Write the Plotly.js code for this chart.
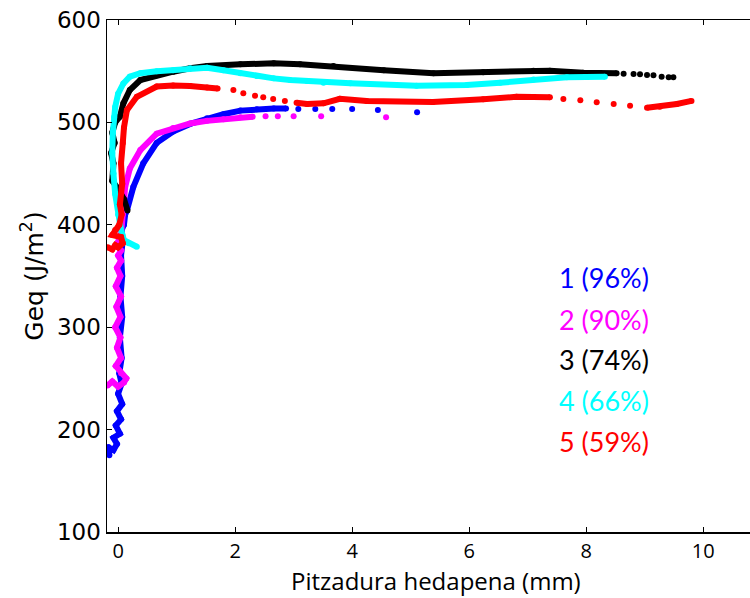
<!DOCTYPE html>
<html>
<head>
<meta charset="utf-8">
<script src="https://cdn.plot.ly/plotly-3.0.1.min.js"></script>
<style>html,body{margin:0;padding:0;background:#fff;}#chart{width:750px;height:598px;}</style>
</head>
<body>
<div id="chart"></div>
<script>
// Series labels and colours
const seriesLabels = ["1 (96%)", "2 (90%)", "3 (74%)", "4 (66%)", "5 (59%)"];
const seriesColors = ["#0000ff", "#ff00ff", "#000000", "#00ffff", "#ff0000"];

// Series 1 (blue) — dense part, then sparse tail
const s1DenseX = [-0.15,-0.17,-0.08,-0.02,-0.08,0.03,-0.04,0.05,-0.02,0.07,0.0,0.06,0.02,0.06,0.03,0.07,0.04,0.07,0.05,0.08,0.06,0.1,0.12,0.15,0.26,0.43,0.66,0.94,1.23,1.52,1.8,2.09,2.37,2.66,2.87];
const s1DenseY = [175,183,180,186,192,196,204,210,218,225,235,245,255,270,290,310,330,350,370,385,395,400,410,414,437,460,480,491,498.5,504,508,511.5,512.8,513.5,513.5];
const s1SparseX = [3.08,3.37,3.66,4.0,4.44,5.11];
const s1SparseY = [513,513,513,513,512,510];

// Series 2 (magenta)
const s2DenseX = [-0.18,-0.1,0.0,0.1,0.14,0.05,-0.04,0.05,-0.02,0.04,-0.05,0.04,-0.03,0.05,-0.04,0.04,-0.02,0.05,0.0,0.05,-0.03,0.05,0.08,0.12,0.2,0.38,0.66,0.94,1.23,1.52,1.8,2.09,2.3];
const s2DenseY = [243,247,242,246,250,255,262,270,280,290,300,310,320,330,340,350,358,365,370,375,380,390,410,437,455,473,489,494.5,499,501.5,503,505,505.5];
const s2SparseX = [2.52,2.73,3.0,3.47,4.58];
const s2SparseY = [506,506,506,506,505];

// Series 3 (black)
const s3DenseX = [0.16,0.1,0.0,-0.1,-0.08,-0.12,-0.06,-0.1,-0.05,0.0,0.03,0.09,0.2,0.38,0.66,0.94,1.23,1.52,2.09,2.66,3.11,3.68,4.54,5.39,6.24,7.1,7.38,7.95,8.52];
const s3DenseY = [414,425,435,443,460,470,480,490,500,505,505.6,518.6,531.6,541.4,546,549.5,552.8,555,556.7,557.7,556.7,555,551,548,549,550.5,550.5,548.5,548];
const s3SparseX = [8.64,8.81,8.92,9.04,9.15,9.29,9.41,9.49];
const s3SparseY = [547.6,547.3,547,546.3,546,544.6,544,544];

// Series 4 (cyan)
const s4DenseX = [0.32,0.18,0.1,0.05,0.0,-0.05,-0.08,-0.1,-0.09,-0.07,-0.05,0.0,0.09,0.2,0.38,0.66,0.94,1.23,1.52,1.8,2.09,2.37,2.66,2.94,3.23,3.51,3.97,5.1,5.96,6.53,7.1,7.67,8.32];
const s4DenseY = [378.6,382,385,395,410,430,450,470,490,505,515,528,538,544.6,548,550,551,552.8,553.4,551,548,545.3,543,541.4,540.4,538.8,538.2,535.8,536.5,538.8,542,544,544.6];
const s4SparseX = [];
const s4SparseY = [];

// Series 5 (red) — dense segments separated by gaps, sparse stretches between
const s5DenseX = [-0.18,-0.1,-0.05,0.0,0.08,0.05,-0.1,-0.05,0.02,0.06,0.03,0.07,0.05,0.08,0.1,0.15,0.32,0.66,0.94,1.23,1.52,1.7,null,3.05,3.23,3.51,3.79,4.25,5.38,6.24,6.81,7.38,null,9.04,9.26,9.55,9.8];
const s5DenseY = [378,376,380,378,382,388,390,395,400,410,420,440,460,480,495,512,525,535,536,535.5,534,533,null,519.2,518,518.6,523,521,520,522.6,525,524.5,null,514.4,515.4,518,521];
const s5SparseX = [1.97,2.14,2.34,2.48,2.65,2.85,7.61,7.9,8.18,8.47,8.75];
const s5SparseY = [531.6,528.4,526,524.5,522.9,520.9,522.9,521.6,519.6,518,516.3];

// Axis ticks
const xTicks = [0,2,4,6,8,10];
const yTicks = [100,200,300,400,500,600];
const xTitle = 'Pitzadura hedapena (mm)';
const yTitle = 'Geq (J/m<sup>2</sup>)';
// Legend text positions in data units
const labelX = [7.5,7.5,7.5,7.5,7.5];
const labelY = [349,308,268,228,188];

const dense = [[s1DenseX,s1DenseY],[s2DenseX,s2DenseY],[s3DenseX,s3DenseY],[s4DenseX,s4DenseY],[s5DenseX,s5DenseY]];
const sparse = [[s1SparseX,s1SparseY],[s2SparseX,s2SparseY],[s3SparseX,s3SparseY],[s4SparseX,s4SparseY],[s5SparseX,s5SparseY]];

const traces = [];
for (let i = 0; i < 5; i++) {
  traces.push({
    x: dense[i][0], y: dense[i][1], type: 'scatter', mode: 'lines+markers',
    line: {color: seriesColors[i], width: 6}, marker: {color: seriesColors[i], size: 6},
    connectgaps: false, showlegend: false, hoverinfo: 'skip'
  });
  if (sparse[i][0].length) {
    traces.push({
      x: sparse[i][0], y: sparse[i][1], type: 'scatter', mode: 'markers',
      marker: {color: seriesColors[i], size: 6}, showlegend: false, hoverinfo: 'skip'
    });
  }
}

const annotations = seriesLabels.map((t, i) => ({
  x: labelX[i], y: labelY[i], xref: 'x', yref: 'y', text: t, showarrow: false,
  xanchor: 'left', yanchor: 'middle',
  font: {family: 'Lato, "Open Sans", sans-serif', size: 27, color: seriesColors[i]}
}));
annotations.push({
  x: 0.512, y: -0.095, xref: 'paper', yref: 'paper', text: xTitle, showarrow: false,
  xanchor: 'center', yanchor: 'middle',
  font: {family: '"Open Sans", sans-serif', size: 24, color: '#000'}
});

const layout = {
  width: 750, height: 598,
  margin: {l: 107, r: 0, t: 20, b: 66},
  paper_bgcolor: '#fff', plot_bgcolor: '#fff',
  showlegend: false,
  xaxis: {
    range: [-0.19, 10.8], tickvals: xTicks, ticktext: xTicks.map(String),
    ticks: 'inside', ticklen: 5, tickcolor: '#000', tickwidth: 1,
    showline: true, linecolor: '#000', linewidth: 1.5, mirror: 'ticks',
    showgrid: false, zeroline: false, ticklabelstandoff: 0,
    tickfont: {family: '"Open Sans", sans-serif', size: 20, color: '#000'}
  },
  yaxis: {
    range: [100, 600], tickvals: yTicks, ticktext: yTicks.map(String),
    ticks: 'inside', ticklen: 5, tickcolor: '#000', tickwidth: 1,
    showline: true, linecolor: '#000', linewidth: 1.5,
    showgrid: false, zeroline: false,
    tickfont: {family: '"DejaVu Sans", sans-serif', size: 23, color: '#000'},
    title: {text: yTitle, font: {family: '"DejaVu Sans", sans-serif', size: 25, color: '#000'}, standoff: 6}
  },
  annotations: annotations
};

Plotly.newPlot('chart', traces, layout, {displayModeBar: false, staticPlot: true});
</script>
</body>
</html>
